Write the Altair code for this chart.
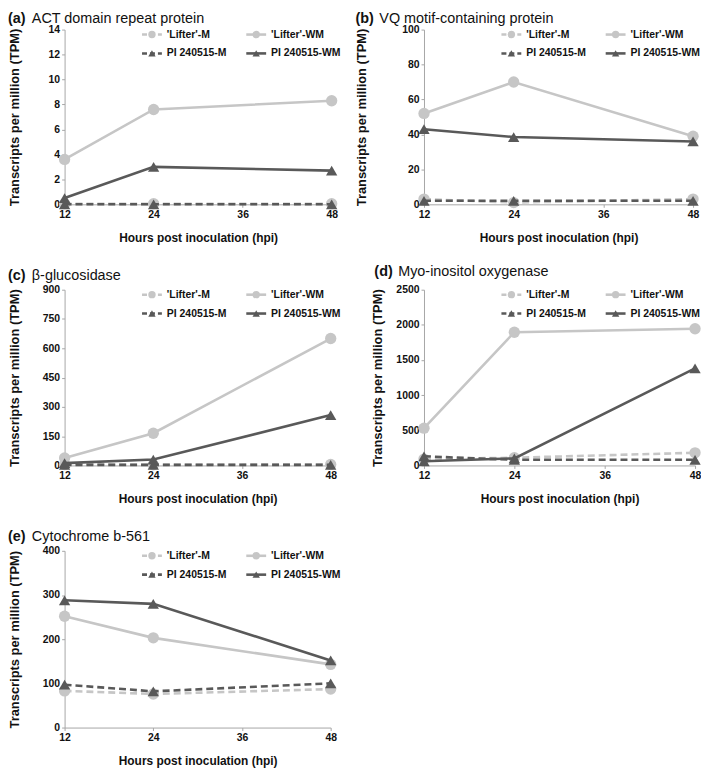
import altair as alt
import pandas as pd

HOURS = [12, 24, 48]
X_TICKS = [12, 24, 36, 48]
SERIES = ["'Lifter'-M", "'Lifter'-WM", "PI 240515-M", "PI 240515-WM"]

# (a) ACT domain repeat protein
a_lifter_m = [0.05, 0.05, 0.05]
a_lifter_wm = [3.6, 7.6, 8.3]
a_pi_m = [0.0, 0.0, 0.0]
a_pi_wm = [0.5, 3.0, 2.7]
# (b) VQ motif-containing protein
b_lifter_m = [3, 1, 3]
b_lifter_wm = [52, 70, 39]
b_pi_m = [2, 2, 2]
b_pi_wm = [43, 38.5, 36]
# (c) beta-glucosidase
c_lifter_m = [5, 3, 5]
c_lifter_wm = [38, 165, 650]
c_pi_m = [3, 3, 3]
c_pi_wm = [12, 30, 258]
# (d) Myo-inositol oxygenase
d_lifter_m = [90, 110, 180]
d_lifter_wm = [530, 1895, 1945]
d_pi_m = [130, 80, 80]
d_pi_wm = [60, 100, 1380]
# (e) Cytochrome b-561
e_lifter_m = [83, 76, 87]
e_lifter_wm = [252, 203, 143]
e_pi_m = [97, 82, 100]
e_pi_wm = [288, 280, 152]

LIGHT = "#c6c6c6"
DARK = "#595959"
COLORS = [LIGHT, LIGHT, DARK, DARK]
DASHED = [True, False, True, False]
SHAPES = ["circle", "circle", "triangle-up", "triangle-up"]
FONT = "Liberation Sans"


def panel(letter, name, series_vals, ymax, ystep, w, h, ytitle_x, title_x, title_y):
    x_enc = alt.X(
        "hpi:Q",
        scale=alt.Scale(domain=[12, 48], nice=False, zero=False),
        axis=alt.Axis(values=X_TICKS, title="Hours post inoculation (hpi)",
                      labelFlush=False, titleY=33, titleBaseline="middle",
                      titleFontSize=12),
    )
    y_enc = alt.Y(
        "tpm:Q",
        scale=alt.Scale(domain=[0, ymax], nice=False),
        axis=alt.Axis(values=list(range(0, ymax + 1, ystep)), format="d",
                      title="Transcripts per million (TPM)",
                      titleX=ytitle_x, titleY=h / 2, titleAngle=270,
                      titleAlign="center", titleBaseline="middle",
                      titleFontSize=13),
    )
    layers = []
    for i, vals in enumerate(series_vals):
        df = pd.DataFrame({"hpi": HOURS, "tpm": vals, "series": SERIES[i]})
        line_kw = dict(color=COLORS[i], strokeWidth=2.6)
        if DASHED[i]:
            line_kw["strokeDash"] = [7, 4]
        layers.append(alt.Chart(df).mark_line(**line_kw).encode(x=x_enc, y=y_enc))
        layers.append(
            alt.Chart(df).mark_point(shape=SHAPES[i], filled=True, size=130,
                                     color=COLORS[i], opacity=1)
            .encode(x=x_enc, y=y_enc)
        )
    # legend
    for i, s in enumerate(SERIES):
        col, row = i % 2, i // 2
        x0 = 78 + col * 105
        yy = 5 + row * 19
        one = pd.DataFrame({"label": [s]})
        rk = dict(color=COLORS[i], strokeWidth=2.6)
        if DASHED[i]:
            rk["strokeDash"] = [5, 3]
        layers.append(alt.Chart(one).mark_rule(**rk).encode(
            x=alt.value(x0), x2=alt.value(x0 + 20), y=alt.value(yy)))
        layers.append(alt.Chart(one).mark_point(shape=SHAPES[i], filled=True, size=55,
                                                color=COLORS[i], opacity=1).encode(
            x=alt.value(x0 + 10), y=alt.value(yy)))
        layers.append(alt.Chart(one).mark_text(align="left", baseline="middle",
                                               fontWeight="bold", fontSize=10.5,
                                               font=FONT, color="#111").encode(
            x=alt.value(x0 + 25), y=alt.value(yy), text="label:N"))
    # panel title
    t1 = pd.DataFrame({"t": [f"({letter})"]})
    t2 = pd.DataFrame({"t": [name]})
    layers.append(alt.Chart(t1).mark_text(align="left", baseline="alphabetic",
                                          fontWeight="bold", fontSize=14.5, font=FONT,
                                          color="#111").encode(
        x=alt.value(title_x), y=alt.value(title_y), text="t:N"))
    layers.append(alt.Chart(t2).mark_text(align="left", baseline="alphabetic",
                                          fontSize=14.5, font=FONT,
                                          color="#111").encode(
        x=alt.value(title_x + 24), y=alt.value(title_y), text="t:N"))
    return alt.layer(*layers).properties(width=w, height=h)


pa = panel("a", "ACT domain repeat protein",
           [a_lifter_m, a_lifter_wm, a_pi_m, a_pi_wm], 14, 2, 269, 176, -50, -57, -7)
pb = panel("b", "VQ motif-containing protein",
           [b_lifter_m, b_lifter_wm, b_pi_m, b_pi_wm], 100, 20, 271, 176, -63, -69, -7)
pc = panel("c", "β-glucosidase",
           [c_lifter_m, c_lifter_wm, c_pi_m, c_pi_wm], 900, 150, 268, 177, -50, -57, -10)
pd_ = panel("d", "Myo-inositol oxygenase",
            [d_lifter_m, d_lifter_wm, d_pi_m, d_pi_wm], 2500, 500, 273, 177, -47, -50, -14)
pe = panel("e", "Cytochrome b-561",
           [e_lifter_m, e_lifter_wm, e_pi_m, e_pi_wm], 400, 100, 268, 178, -50, -57, -10)

chart = (
    alt.concat(pa, pb, pc, pd_, pe, columns=2,
               spacing={"row": 86, "column": 93}, bounds="flush")
    .properties(padding=0, background="white")
    .configure(font=FONT)
    .configure_view(stroke=None)
    .configure_axis(
        grid=False,
        domainColor="#a6a6a6",
        domainWidth=1,
        tickColor="#a6a6a6",
        tickSize=3,
        labelFont=FONT,
        labelFontSize=10.5,
        labelFontWeight="bold",
        labelColor="#111",
        labelPadding=2,
        titleFont=FONT,
        titleFontWeight="bold",
        titleColor="#111",
    )
)

chart.save("out.html", embed_options={"renderer": "svg", "actions": False})
